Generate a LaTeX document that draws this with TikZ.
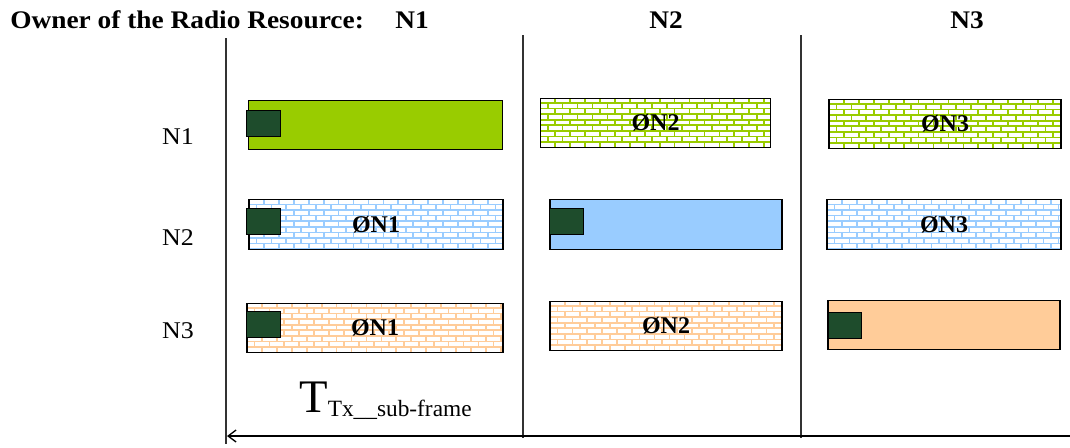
\documentclass[tikz,border=0pt]{standalone}
\usepackage{fontspec}
\setmainfont{Liberation Serif}
\newfontfamily\headfont[FakeStretch=1.08]{Liberation Serif}
\usetikzlibrary{arrows.meta,positioning,calc}
\definecolor{grn}{RGB}{153,204,0}
\definecolor{blu}{RGB}{153,204,255}
\definecolor{org}{RGB}{255,204,153}
\definecolor{sqc}{RGB}{30,76,44}
\definecolor{sep}{RGB}{50,50,50}

\newcommand\brickwall[1]{%
  \foreach \r in {0,...,9}{%
    \draw[#1, line width=1.3pt] ([yshift=\r*4.2pt]path picture bounding box.south west) -- ([yshift=\r*4.2pt]path picture bounding box.south east);
    \pgfmathsetmacro\off{mod(\r,2)*5.6}
    \foreach \k in {0,...,17}{%
      \draw[#1, line width=1.3pt] ([xshift=\k*11.2pt+\off pt, yshift=\r*4.2pt]path picture bounding box.south west) -- ++(0pt,4.2pt);
    }
  }}

\begin{document}
\begin{tikzpicture}[x=0.75pt, y=-0.75pt,
  solidbox/.style={draw=black, line width=0.9pt, fill=#1, minimum height=37pt, inner sep=0pt},
  brickbox/.style={draw=black, line width=0.9pt, fill=white, minimum height=37pt, inner sep=0pt,
    font=\bfseries\fontsize{18}{21}\selectfont, path picture={\brickwall{#1}}},
  sq/.style={draw=black, line width=0.6pt, fill=sqc, minimum width=25pt, minimum height=19.5pt, inner sep=0pt, anchor=west},
  head/.style={font=\headfont\bfseries\fontsize{19}{22}\selectfont, anchor=base, inner sep=0pt},
  rowlab/.style={font=\headfont\fontsize{18}{21}\selectfont, inner sep=0pt},
  arrow/.style={-{Straight Barb[length=6pt, width=9pt]}, line width=1pt},
]
  \useasboundingbox (0,0) rectangle (1070,447);

  \node[head, anchor=base west] (owner) at (10,28) {Owner of the Radio Resource:};
  \node[head] (hN1) at (412,28) {N1};
  \node[head] (hN2) at (666,28) {N2};
  \node[head] (hN3) at (967,28) {N3};

  \node[rowlab] (lN1) at (178,137) {N1};
  \node[rowlab] (lN2) at (178,238) {N2};
  \node[rowlab] (lN3) at (178,331) {N3};

  \coordinate (s1top) at (226,38);
  \coordinate (s1bot) at (226,444);
  \coordinate (s2top) at (523,35);
  \coordinate (s2bot) at (523,438);
  \coordinate (s3top) at (801,35);
  \coordinate (s3bot) at (801,438);
  \draw[sep, line width=1pt] (s1top) -- (s1bot);
  \draw[sep, line width=1pt] (s2top) -- (s2bot);
  \draw[sep, line width=1pt] (s3top) -- (s3bot);

  \node[solidbox=grn, minimum width=190pt] (a11) at (375.5,125) {};
  \node[brickbox=grn, minimum width=173pt] (a12) at (655.5,123) {ØN2};
  \node[brickbox=grn, minimum width=174pt] (a13) at (945,124) {ØN3};

  \node[brickbox=blu, minimum width=190.5pt] (a21) at (376,224.5) {ØN1};
  \node[solidbox=blu, minimum width=174pt] (a22) at (666,224.5) {};
  \node[brickbox=blu, minimum width=175.5pt] (a23) at (944,224.5) {ØN3};

  \node[brickbox=org, minimum width=192pt] (a31) at (375,328) {ØN1};
  \node[brickbox=org, minimum width=174pt] (a32) at (666,326) {ØN2};
  \node[solidbox=org, minimum width=174pt] (a33) at (944,325) {};

  \node[sq] (q11) at ([xshift=-1.5pt, yshift=1.5pt]a11.west) {};
  \node[sq] (q21) at ([xshift=-1.5pt, yshift=2.5pt]a21.west) {};
  \node[sq] (q31) at ([yshift=2.5pt]a31.west) {};
  \node[sq] (q22) at ([yshift=2pt]a22.west) {};
  \node[sq] (q33) at ([xshift=0.5pt, yshift=-0.5pt]a33.west) {};

  \node[anchor=base west, inner sep=0pt] (tsub) at (299,412)
    {\fontsize{35}{38}\selectfont T\raisebox{-3.5pt}{\fontsize{17.5}{20}\selectfont Tx\_\_sub-frame}};

  \coordinate (arrR) at (1070,436);
  \coordinate (arrL) at (227,436);
  \draw[arrow] (arrR) -- (arrL);
\end{tikzpicture}
\end{document}
